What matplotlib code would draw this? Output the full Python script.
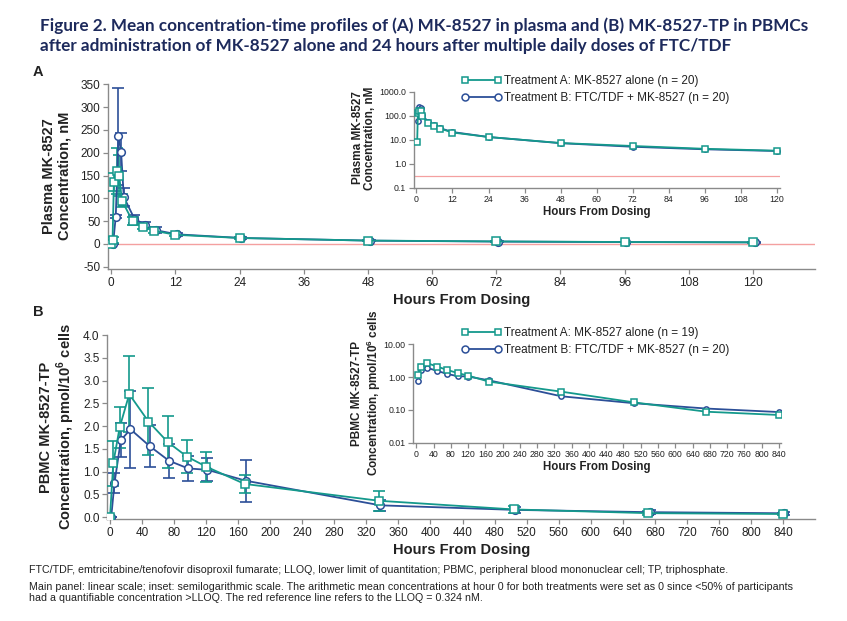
import matplotlib
matplotlib.use("Agg")
import matplotlib.pyplot as plt
import numpy as np
from matplotlib.ticker import FixedLocator, FixedFormatter
from matplotlib.lines import Line2D

plt.rcParams['font.family'] = ['Liberation Sans', 'DejaVu Sans']
plt.rcParams['axes.unicode_minus'] = False

# ---------------- Data ----------------
# Panel A: plasma MK-8527 (nM)
hours_a = [0, 0.25, 0.5, 1, 1.5, 2, 4, 6, 8, 12, 24, 48, 72, 96, 120]
plasma_trtA = [0, 8, 135, 160, 150, 95, 50, 38, 29, 20, 13, 7.3, 5.5, 4.2, 3.5]
plasma_trtA_sd = [0, 7, 20, 50, 45, 15, 8, 6, 6, 3, 2, 1.0, 0.8, 0.6, 0.5]
plasma_trtB = [0, None, 60, 236, 202, 103, 55, 42, 30, 21, 13, 7.2, 5.1, 4.0, 3.4]
plasma_trtB_sd = [0, None, 3, 106, 42, 20, 9, 7, 6, 3, 2, 1.0, 0.8, 0.6, 0.5]
lloq_nm = 0.324

# Panel B: PBMC MK-8527-TP (pmol/10^6 cells)
hours_b = [0, 4, 12, 24, 48, 72, 96, 120, 168, 336, 504, 672, 840]
pbmc_trtA = [0, 1.18, 1.97, 2.70, 2.10, 1.65, 1.33, 1.11, 0.73, 0.36, 0.17, 0.088, 0.070]
pbmc_trtA_sd = [0, 0.49, 0.46, 0.83, 0.74, 0.57, 0.37, 0.33, 0.20, 0.22, 0.07, 0.04, 0.03]
pbmc_trtB = [0, 0.74, 1.69, 1.93, 1.56, 1.24, 1.07, 1.04, 0.80, 0.26, 0.16, 0.11, 0.086]
pbmc_trtB_sd = [0, 0.22, 0.37, 0.84, 0.46, 0.37, 0.28, 0.25, 0.46, 0.12, 0.06, 0.04, 0.03]

label_a_A = "Treatment A: MK-8527 alone (n = 20)"
label_a_B = "Treatment B: FTC/TDF + MK-8527 (n = 20)"
label_b_A = "Treatment A: MK-8527 alone (n = 19)"
label_b_B = "Treatment B: FTC/TDF + MK-8527 (n = 20)"

GREEN = "#14998c"
BLUE = "#2c4f98"
RED = "#f4a0a0"
SPINE = "#8a8a8a"
TXT = "#222222"

W, H = 847, 621
fig = plt.figure(figsize=(W / 100, H / 100), dpi=100)


def axpx(l, r, t, b):
    return fig.add_axes([l / W, 1 - b / H, (r - l) / W, (b - t) / H])


def style(ax, fs):
    for s in ['top', 'right']:
        ax.spines[s].set_visible(False)
    for s in ['left', 'bottom']:
        ax.spines[s].set_color(SPINE)
        ax.spines[s].set_linewidth(1.0)
    ax.tick_params(axis='both', direction='out', length=3.5, width=0.9,
                   color=SPINE, labelsize=fs, labelcolor=TXT, pad=2)
    ax.patch.set_alpha(0)


def clean(x, y, sd):
    xs, ys, ss = [], [], []
    for i, v in enumerate(y):
        if v is None:
            continue
        xs.append(x[i]); ys.append(v)
        ss.append(sd[i] if sd is not None else 0.0)
    return np.array(xs, float), np.array(ys, float), np.array(ss, float)


def series(ax, x, y, sd, color, marker, ms, off, err=True, log=False):
    xs, ys, ss = clean(x, y, sd)
    if log:
        m = ys > 0
        xs, ys, ss = xs[m], ys[m], ss[m]
    xs = xs + off
    if err:
        ax.errorbar(xs, ys, yerr=ss, fmt='none', ecolor=color, elinewidth=1.2,
                    capsize=4.5, capthick=1.2, zorder=3)
    ax.plot(xs, ys, color=color, lw=1.3, marker=marker, ms=ms,
            mfc='white', mec=color, mew=1.1, zorder=4)


# ---------------- Panel A main ----------------
axA = axpx(108, 815, 84.3, 269)
style(axA, 8.5)
axA.axhline(lloq_nm, color=RED, lw=1.0, zorder=1)
series(axA, hours_a, plasma_trtB, plasma_trtB_sd, BLUE, 'o', 5.5, 0.35)
series(axA, hours_a, plasma_trtA, plasma_trtA_sd, GREEN, 's', 6, 0.0)
axA.set_xlim(-0.6, 131.6)
axA.set_ylim(-55, 350)
axA.set_xticks(np.arange(0, 121, 12))
axA.set_yticks(np.arange(-50, 351, 50))
axA.set_xlabel("Hours From Dosing", fontsize=10.5, fontweight='bold',
               color=TXT, labelpad=3)
fig.text(57 / W, 1 - 176 / H, "Plasma MK-8527\nConcentration, nM",
         rotation=90, ha='center', va='center', fontsize=10.5,
         fontweight='bold', color=TXT, linespacing=1.15)

# ---------------- Panel A inset ----------------
axAi = axpx(414, 780, 91.7, 187.8)
style(axAi, 6.3)
axAi.set_yscale('log')
axAi.axhline(lloq_nm, color=RED, lw=0.9, zorder=1)
series(axAi, hours_a, plasma_trtB, None, BLUE, 'o', 3.8, 0.0, err=False, log=True)
series(axAi, hours_a, plasma_trtA, None, GREEN, 's', 3.8, 0.0, err=False, log=True)
axAi.set_xlim(-0.8, 121)
axAi.set_ylim(0.1, 1000)
axAi.set_xticks(np.arange(0, 121, 12))
axAi.yaxis.set_major_locator(FixedLocator([0.1, 1, 10, 100, 1000]))
axAi.yaxis.set_major_formatter(FixedFormatter(["0.1", "1.0", "10.0", "100.0", "1000.0"]))
axAi.yaxis.set_minor_locator(FixedLocator([]))
axAi.set_xlabel("Hours From Dosing", fontsize=8.3, fontweight='bold',
                color=TXT, labelpad=1)
fig.text(364 / W, 1 - 138 / H, "Plasma MK-8527\nConcentration, nM",
         rotation=90, ha='center', va='center', fontsize=8.5,
         fontweight='bold', color=TXT, linespacing=1.1)

# ---------------- Panel B main ----------------
axB = axpx(107.3, 815, 335, 519)
style(axB, 8.5)
series(axB, hours_b, pbmc_trtB, pbmc_trtB_sd, BLUE, 'o', 5.5, 1.5)
series(axB, hours_b, pbmc_trtA, pbmc_trtA_sd, GREEN, 's', 6, 0.0)
axB.set_xlim(-3.4, 880)
axB.set_ylim(-0.04, 4.0)
axB.set_xticks(np.arange(0, 841, 40))
axB.set_yticks(np.arange(0, 4.01, 0.5))
axB.yaxis.set_major_formatter(matplotlib.ticker.FormatStrFormatter('%.1f'))
axB.set_xlabel("Hours From Dosing", fontsize=10.5, fontweight='bold',
               color=TXT, labelpad=3)
fig.text(58 / W, 1 - 427 / H, "PBMC MK-8527-TP\nConcentration, pmol/10$^\\mathregular{6}$ cells",
         rotation=90, ha='center', va='center', fontsize=10.5,
         fontweight='bold', color=TXT, linespacing=1.15)

# ---------------- Panel B inset ----------------
axBi = axpx(413, 781, 344.3, 442.7)
style(axBi, 6.3)
axBi.set_yscale('log')
series(axBi, hours_b, pbmc_trtB, None, BLUE, 'o', 3.8, 0.0, err=False, log=True)
series(axBi, hours_b, pbmc_trtA, None, GREEN, 's', 3.8, 0.0, err=False, log=True)
axBi.set_xlim(-7.6, 845)
axBi.set_ylim(0.01, 10)
axBi.set_xticks(np.arange(0, 841, 40))
axBi.yaxis.set_major_locator(FixedLocator([0.01, 0.1, 1, 10]))
axBi.yaxis.set_major_formatter(FixedFormatter(["0.01", "0.10", "1.00", "10.00"]))
axBi.yaxis.set_minor_locator(FixedLocator([]))
axBi.set_xlabel("Hours From Dosing", fontsize=8.3, fontweight='bold',
                color=TXT, labelpad=1)
fig.text(367 / W, 1 - 393 / H, "PBMC MK-8527-TP\nConcentration, pmol/10$^\\mathregular{6}$ cells",
         rotation=90, ha='center', va='center', fontsize=8.5,
         fontweight='bold', color=TXT, linespacing=1.1)


# ---------------- Legends ----------------
def legend(top_px, labA, labB):
    hA = Line2D([0], [0], color=GREEN, lw=1.3, marker='s', ms=5, mfc='white', mec=GREEN, mew=1.1)
    hB = Line2D([0], [0], color=BLUE, lw=1.3, marker='o', ms=5, mfc='white', mec=BLUE, mew=1.1)
    fig.legend([hA, hB], [labA, labB], loc='upper left',
               bbox_to_anchor=(461 / W, 1 - top_px / H), frameon=False,
               fontsize=8.5, numpoints=2, handlelength=3.4, handletextpad=0.25,
               labelspacing=0.45, borderpad=0, borderaxespad=0,
               labelcolor=TXT)


legend(75, label_a_A, label_a_B)
legend(327, label_b_A, label_b_B)

# ---------------- Titles & texts ----------------
fig.text(40 / W, 1 - 36 / H,
         "Figure 2. Mean concentration-time profiles of (A) MK-8527 in plasma and (B) MK-8527-TP in PBMCs\n"
         "after administration of MK-8527 alone and 24 hours after multiple daily doses of FTC/TDF",
         ha='left', va='center', fontsize=12.3, fontweight='bold', color="#1d2a5c",
         family=['Lato', 'Liberation Sans', 'DejaVu Sans'], linespacing=1.3)
fig.text(38 / W, 1 - 72 / H, "A", ha='center', va='center', fontsize=10.5,
         fontweight='bold', color=TXT)
fig.text(38 / W, 1 - 312 / H, "B", ha='center', va='center', fontsize=10.5,
         fontweight='bold', color=TXT)

fig.text(29 / W, 1 - 570 / H,
         "FTC/TDF, emtricitabine/tenofovir disoproxil fumarate; LLOQ, lower limit of quantitation; "
         "PBMC, peripheral blood mononuclear cell; TP, triphosphate.",
         ha='left', va='center', fontsize=7.7, color=TXT)
fig.text(29 / W, 1 - 592.5 / H,
         "Main panel: linear scale; inset: semilogarithmic scale. The arithmetic mean concentrations at hour 0 "
         "for both treatments were set as 0 since <50% of participants\n"
         "had a quantifiable concentration >LLOQ. The red reference line refers to the LLOQ = 0.324 nM.",
         ha='left', va='center', fontsize=7.7, color=TXT, linespacing=1.08)

fig.savefig("out.png", dpi=100)
